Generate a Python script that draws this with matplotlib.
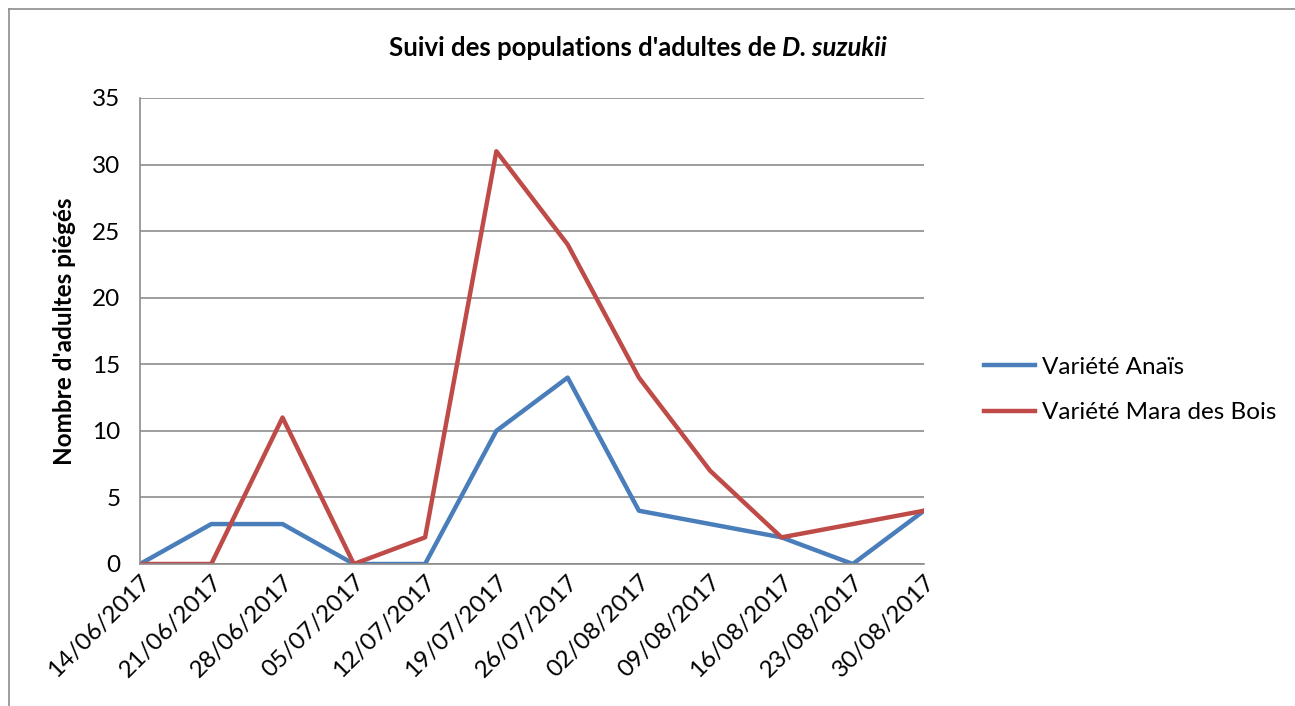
import matplotlib
matplotlib.use('Agg')
import matplotlib.pyplot as plt
from matplotlib.lines import Line2D

dates = ['14/06/2017', '21/06/2017', '28/06/2017', '05/07/2017', '12/07/2017',
         '19/07/2017', '26/07/2017', '02/08/2017', '09/08/2017', '16/08/2017',
         '23/08/2017', '30/08/2017']
anais = [0, 3, 3, 0, 0, 10, 14, 4, 3, 2, 0, 4]
mara = [0, 0, 11, 0, 2, 31, 24, 14, 7, 2, 3, 4]
yticks = [0, 5, 10, 15, 20, 25, 30, 35]

plt.rcParams['font.family'] = ['Lato', 'DejaVu Sans']
fs = 17.5

fig = plt.figure(figsize=(12.95, 7.06), dpi=100)
ax = fig.add_axes([140/1295, 1 - 564/706, (924 - 140)/1295, (564 - 98)/706])

x = list(range(len(dates)))
ax.plot(x, anais, color='#4a7ebb', lw=3.2, label='Variété Anaïs')
ax.plot(x, mara, color='#be4b48', lw=3.2, label='Variété Mara des Bois')

ax.set_xlim(0, len(dates) - 1)
ax.set_ylim(0, 35)
ax.set_yticks(yticks)
ax.set_xticks(x)
ax.set_xticklabels(dates, rotation=45, ha='right', rotation_mode='anchor')
ax.tick_params(axis='both', length=0, labelsize=fs, colors='black')
ax.tick_params(axis='y', pad=14)
ax.tick_params(axis='x', pad=5)
ax.grid(axis='y', color='#8c8c8c', lw=1.2)
ax.set_axisbelow(True)
for s in ['top', 'right']:
    ax.spines[s].set_visible(False)
for s in ['left', 'bottom']:
    ax.spines[s].set_color('#8c8c8c')
    ax.spines[s].set_linewidth(1.2)

ax.set_ylabel("Nombre d'adultes piégés", fontsize=fs, fontweight='bold', labelpad=12)

# title: regular bold part + bold italic species name, centred together
t1 = fig.text(0, 1 - 48/706, "Suivi des populations d'adultes de ",
              ha='left', va='center', fontsize=18.5, fontweight='bold')
t2 = fig.text(0, 1 - 48/706, "D. suzukii", ha='left', va='center',
              fontsize=18.5, fontweight='bold', style='italic')
r = fig.canvas.get_renderer()
w1 = t1.get_window_extent(r).width
w2 = t2.get_window_extent(r).width
x0 = 638 - (w1 + w2) / 2
t1.set_x(x0 / 1295)
t2.set_x((x0 + w1) / 1295)

handles = [Line2D([], [], color='#4a7ebb', lw=3.2),
           Line2D([], [], color='#be4b48', lw=3.2)]
fig.legend(handles, ['Variété Anaïs', 'Variété Mara des Bois'],
           loc='center left', bbox_to_anchor=(972/1295, 1 - 390/706),
           frameon=False, fontsize=fs, handlelength=2.1, handletextpad=0.3,
           labelspacing=1.0, borderpad=0)

# figure border (only top and left edges visible in the crop)
fig.add_artist(Line2D([9/1295, 1], [1 - 9/706, 1 - 9/706], color='#8c8c8c', lw=1.2))
fig.add_artist(Line2D([9/1295, 9/1295], [0, 1 - 9/706], color='#8c8c8c', lw=1.2))

fig.savefig('out.png', dpi=100)
